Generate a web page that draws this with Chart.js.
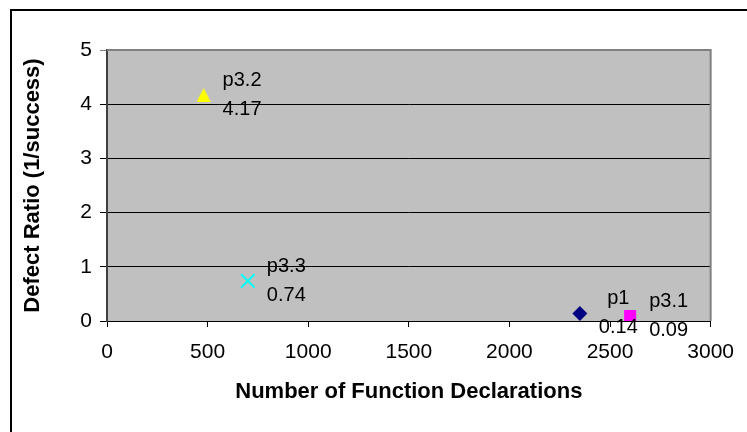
<!DOCTYPE html>
<html>
<head>
<meta charset="utf-8">
<script src="https://cdn.jsdelivr.net/npm/chart.js@4.4.1/dist/chart.umd.min.js"></script>
<style>
  html, body { margin: 0; padding: 0; background: #fff; }
  #wrap { width: 747px; height: 432px; }
</style>
</head>
<body>
<div id="wrap"><canvas id="grafico"></canvas></div>
<script>
// Projetos e valores
const projetos = ['p1', 'p3.1', 'p3.2', 'p3.3'];
const declaracoes = [2350, 2600, 480, 700];      // Number of Function Declarations
const razaoDefeitos = [0.14, 0.09, 4.17, 0.74];  // Defect Ratio (1/success)

// Ticks dos eixos
const ticksX = [0, 500, 1000, 1500, 2000, 2500, 3000];
const ticksY = [0, 1, 2, 3, 4, 5];

// Triângulo centrado pela caixa (o do Chart.js fica centrado no baricentro)
function triangulo(lado, cor) {
  const c = document.createElement('canvas');
  c.width = lado;
  c.height = lado;
  const g = c.getContext('2d');
  g.fillStyle = cor;
  g.beginPath();
  g.moveTo(lado / 2, 0);
  g.lineTo(lado, lado);
  g.lineTo(0, lado);
  g.closePath();
  g.fill();
  return c;
}

// Estilo de cada série
const cores = ['#000080', '#FF00FF', '#FFFF00', '#00FFFF'];
const marcadores = ['rectRot', 'rect', triangulo(14, '#FFFF00'), 'crossRot'];
const tamanhos = [7.5, 8.5, 7, 9.5];

const fonte = "'Liberation Sans', Arial, sans-serif";

// Fundo cinza da área do gráfico, moldura e borda externa
const fundoPlot = {
  id: 'fundoPlot',
  beforeDraw(chart) {
    const { ctx, chartArea: a } = chart;
    ctx.save();
    ctx.lineWidth = 2;
    ctx.strokeStyle = '#000';
    ctx.strokeRect(11, 10, 800, 500);
    ctx.fillStyle = '#C0C0C0';
    ctx.fillRect(a.left, a.top, a.right - a.left, a.bottom - a.top);
    ctx.restore();
  },
  beforeDatasetsDraw(chart) {
    const { ctx, chartArea: a } = chart;
    ctx.save();
    ctx.strokeStyle = '#808080';
    ctx.lineWidth = 2;
    ctx.beginPath();
    ctx.moveTo(a.left, a.top);
    ctx.lineTo(a.right, a.top);
    ctx.lineTo(a.right, a.bottom);
    ctx.stroke();
    ctx.restore();
  }
};

// Rótulos "nome / valor" à direita de cada ponto
const rotulos = {
  id: 'rotulos',
  afterDatasetsDraw(chart) {
    const { ctx } = chart;
    ctx.save();
    ctx.font = '20px ' + fonte;
    ctx.fillStyle = '#000';
    ctx.textAlign = 'center';
    ctx.textBaseline = 'middle';
    chart.data.datasets.forEach((ds, i) => {
      const pt = chart.getDatasetMeta(i).data[0];
      const nome = projetos[i];
      const valor = razaoDefeitos[i].toFixed(2);
      const w = Math.max(ctx.measureText(nome).width, ctx.measureText(valor).width);
      const cx = pt.x + 19 + w / 2;
      ctx.fillText(nome, cx, pt.y - 14.5);
      ctx.fillText(valor, cx, pt.y + 14.5);
    });
    ctx.restore();
  }
};

new Chart(document.getElementById('grafico'), {
  type: 'scatter',
  data: {
    datasets: projetos.map((p, i) => ({
      label: p,
      data: [{ x: declaracoes[i], y: razaoDefeitos[i] }],
      pointStyle: marcadores[i],
      pointRadius: tamanhos[i],
      pointHoverRadius: tamanhos[i],
      backgroundColor: cores[i],
      borderColor: cores[i],
      borderWidth: marcadores[i] === 'crossRot' ? 2 : 0
    }))
  },
  options: {
    responsive: true,
    maintainAspectRatio: false,
    animation: false,
    layout: { padding: { top: 50, right: 36, left: 0, bottom: 0 } },
    plugins: {
      legend: { display: false },
      tooltip: { enabled: false }
    },
    scales: {
      x: {
        type: 'linear',
        min: 0,
        max: 3000,
        afterBuildTicks: s => { s.ticks = ticksX.map(v => ({ value: v })); },
        afterFit: s => { s.height = 111; },
        ticks: {
          color: '#000',
          font: { family: fonte, size: 21 },
          padding: 13,
          callback: v => String(v)
        },
        grid: { drawOnChartArea: false, color: '#000', tickLength: 6 },
        border: { color: '#000', width: 1 },
        title: {
          display: true,
          text: 'Number of Function Declarations',
          color: '#000',
          font: { family: fonte, size: 22, weight: 'bold' },
          padding: { top: 0, bottom: 27 }
        }
      },
      y: {
        type: 'linear',
        min: 0,
        max: 5,
        afterBuildTicks: s => { s.ticks = ticksY.map(v => ({ value: v })); },
        afterFit: s => { s.width = 107; },
        ticks: {
          color: '#000',
          font: { family: fonte, size: 21 },
          padding: 8,
          callback: v => String(v)
        },
        grid: {
          color: c => (c.tick && c.tick.value === 5 ? '#808080' : '#000'),
          tickLength: 7
        },
        border: { color: '#404040', width: 2 },
        title: {
          display: true,
          text: 'Defect Ratio (1/success)',
          color: '#000',
          font: { family: fonte, size: 22, weight: 'bold' },
          padding: { top: 20, bottom: 0 }
        }
      }
    }
  },
  plugins: [fundoPlot, rotulos]
});
</script>
</body>
</html>
